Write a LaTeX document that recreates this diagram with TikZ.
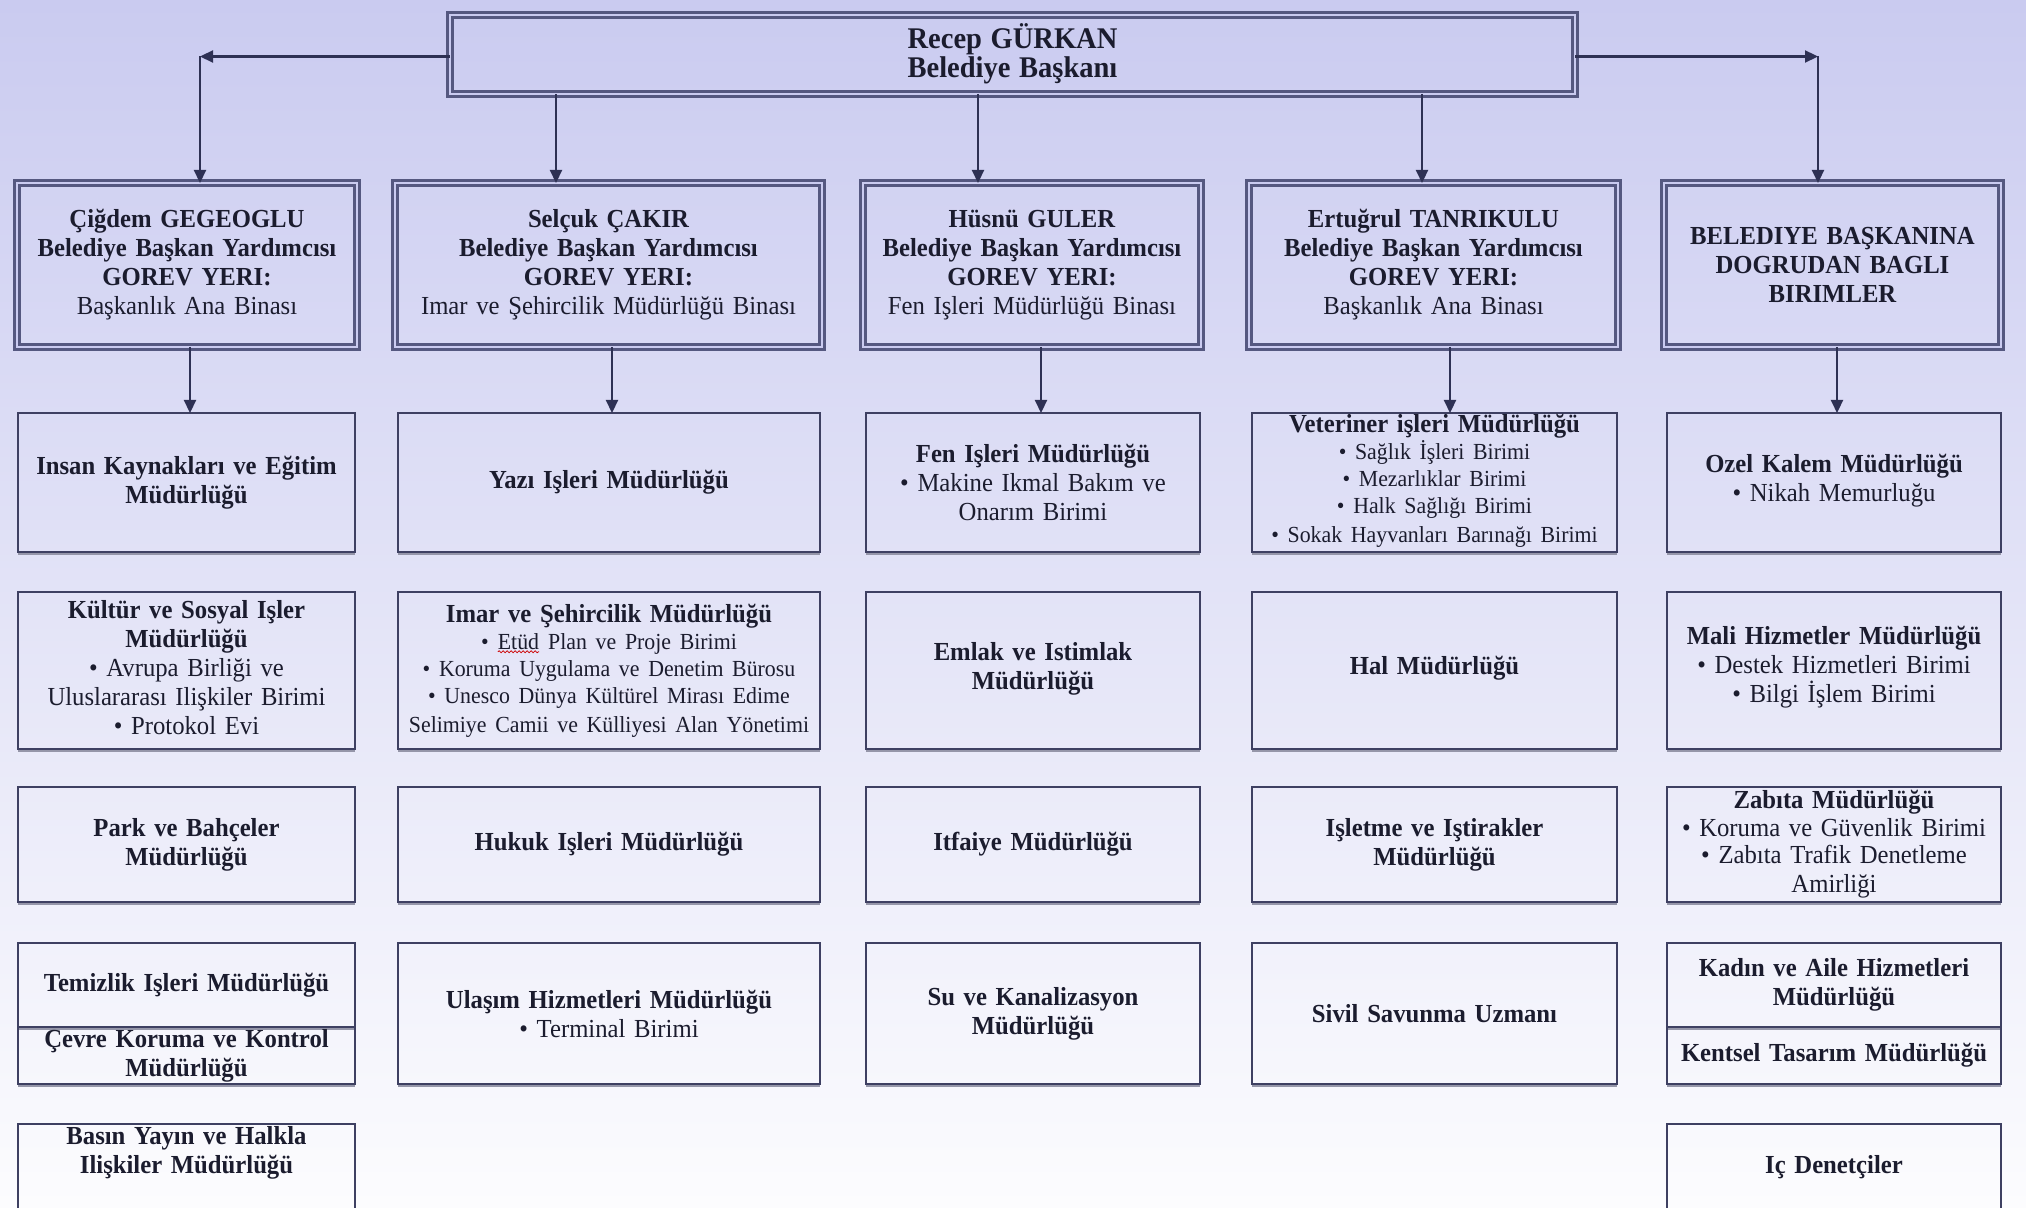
\documentclass[tikz,border=0pt]{standalone}
\usepackage{fontspec}
\setmainfont{Liberation Serif}[FakeStretch=0.95]
\usetikzlibrary{arrows.meta,fit,decorations.pathmorphing}
\definecolor{bgtop}{HTML}{CACBF0}
\definecolor{bgmid}{HTML}{DFE0F6}
\definecolor{bgbot}{HTML}{FCFCFE}
\definecolor{linec}{HTML}{3E4062}
\definecolor{dblc}{HTML}{555880}
\definecolor{arrc}{HTML}{2E3154}
\definecolor{txtc}{HTML}{1B1C2E}
\tikzset{
 ubox/.style={draw=linec, line width=1.2pt, inner sep=0pt, outer sep=0pt},
 dbox/.style={draw=dblc, line width=1.25pt, double=bgtop, double distance=1.2pt, inner sep=0pt, outer sep=0pt},
 shadowline/.style={draw=linec!55, line width=1pt},
 txt/.style={align=center, text=txtc, inner sep=0pt, text width=240pt, font=\fontsize{13pt}{14.5pt}\selectfont},
 arr/.style={draw=arrc, line width=1.1pt, -{Triangle[length=6.5pt,width=6pt]}},
 squig/.style={draw=red!80!black, line width=0.4pt, decorate, decoration={snake, amplitude=0.5pt, segment length=2pt}},
}
\newcommand\ubx[7]{\node[ubox, fit={(#2,#3) (#4,#5)}] (#1) {};
  \draw[shadowline] ([yshift=-1.2pt]#1.south west) -- ([yshift=-1.2pt]#1.south east);
  \node[txt,#6] (#1t) at (#1.center) {#7};}
\newcommand\dbx[7]{\node[dbox, fit={(#2,#3) (#4,#5)}] (#1) {};
  \node[txt,#6] (#1t) at (#1.center) {#7};}
\newcommand\sm{\fontsize{11.5pt}{13.5pt}\selectfont}
\newcommand\spellmark[1]{\tikz[baseline=(w.base)]{\node[inner sep=0pt, outer sep=0pt] (w) {#1};
  \draw[squig] ([yshift=-1.3pt]w.base west) -- ([yshift=-1.3pt]w.base east);}}
\begin{document}
\begin{tikzpicture}[x=0.5pt,y=-0.5pt]
\shade[top color=bgtop, middle color=bgmid, bottom color=bgbot] (0,0) rectangle (2026,1208);
\useasboundingbox (0,0) rectangle (2026,1208);
\clip (0,0) rectangle (2026,1208);

% top
\dbx{top}{450}{15}{1575}{94}{yshift=0.5pt}{\fontsize{15pt}{16pt}\selectfont\bfseries Recep GÜRKAN\\Belediye Başkanı}

% level 2
\dbx{b1}{17}{183}{357}{347}{}{\bfseries Çiğdem GEGEOGLU\\Belediye Başkan Yardımcısı\\GOREV YERI:\\\mdseries Başkanlık Ana Binası}
\dbx{b2}{395}{183}{822}{347}{}{\bfseries Selçuk ÇAKIR\\Belediye Başkan Yardımcısı\\GOREV YERI:\\\mdseries Imar ve Şehircilik Müdürlüğü Binası}
\dbx{b3}{863}{183}{1201}{347}{}{\bfseries Hüsnü GULER\\Belediye Başkan Yardımcısı\\GOREV YERI:\\\mdseries Fen Işleri Müdürlüğü Binası}
\dbx{b4}{1249}{183}{1618}{347}{}{\bfseries Ertuğrul TANRIKULU\\Belediye Başkan Yardımcısı\\GOREV YERI:\\\mdseries Başkanlık Ana Binası}
\dbx{b5}{1664}{183}{2001}{347}{}{\bfseries BELEDIYE BAŞKANINA\\DOGRUDAN BAGLI\\BIRIMLER}

% row 3
\ubx{r3c1}{18}{413}{355}{552}{}{\bfseries Insan Kaynakları ve Eğitim\\Müdürlüğü}
\ubx{r3c2}{398}{413}{820}{552}{}{\bfseries Yazı Işleri Müdürlüğü}
\ubx{r3c3}{866}{413}{1200}{552}{}{\textbf{Fen Işleri Müdürlüğü}\\• Makine Ikmal Bakım ve\\Onarım Birimi}
\ubx{r3c4}{1252}{413}{1617}{552}{yshift=1pt}{{\bfseries Veteriner işleri Müdürlüğü}\\\sm • Sağlık İşleri Birimi\\• Mezarlıklar Birimi\\• Halk Sağlığı Birimi\\• Sokak Hayvanları Barınağı Birimi}
\ubx{r3c5}{1667}{413}{2001}{552}{yshift=1pt}{\textbf{Ozel Kalem Müdürlüğü}\\• Nikah Memurluğu}

% row 4
\ubx{r4c1}{18}{592}{355}{749}{yshift=1.5pt}{\textbf{Kültür ve Sosyal Işler\\Müdürlüğü}\\• Avrupa Birliği ve\\Uluslararası Ilişkiler Birimi\\• Protokol Evi}
\ubx{r4c2}{398}{592}{820}{749}{}{{\bfseries Imar ve Şehircilik Müdürlüğü}\\\sm • \spellmark{Etüd} Plan ve Proje Birimi\\• Koruma Uygulama ve Denetim Bürosu\\• Unesco Dünya Kültürel Mirası Edime\\Selimiye Camii ve Külliyesi Alan Yönetimi}
\ubx{r4c3}{866}{592}{1200}{749}{yshift=1pt}{\bfseries Emlak ve Istimlak\\Müdürlüğü}
\ubx{r4c4}{1252}{592}{1617}{749}{yshift=1pt}{\bfseries Hal Müdürlüğü}
\ubx{r4c5}{1667}{592}{2001}{749}{yshift=1.5pt}{\textbf{Mali Hizmetler Müdürlüğü}\\• Destek Hizmetleri Birimi\\• Bilgi İşlem Birimi}

% row 5
\ubx{r5c1}{18}{787}{355}{902}{}{\bfseries Park ve Bahçeler\\Müdürlüğü}
\ubx{r5c2}{398}{787}{820}{902}{}{\bfseries Hukuk Işleri Müdürlüğü}
\ubx{r5c3}{866}{787}{1200}{902}{}{\bfseries Itfaiye Müdürlüğü}
\ubx{r5c4}{1252}{787}{1617}{902}{}{\bfseries Işletme ve Iştirakler\\Müdürlüğü}
\ubx{r5c5}{1667}{787}{2001}{902}{}{\fontsize{13pt}{13.8pt}\selectfont\textbf{Zabıta Müdürlüğü}\\• Koruma ve Güvenlik Birimi\\• Zabıta Trafik Denetleme\\Amirliği}

% row 6
\ubx{r6c1a}{18}{943}{355}{1027}{}{\bfseries Temizlik Işleri Müdürlüğü}
\ubx{r6c1b}{18}{1027}{355}{1084}{}{\fontsize{13pt}{13.8pt}\selectfont\bfseries Çevre Koruma ve Kontrol\\Müdürlüğü}
\ubx{r6c2}{398}{943}{820}{1084}{}{\textbf{Ulaşım Hizmetleri Müdürlüğü}\\• Terminal Birimi}
\ubx{r6c3}{866}{943}{1200}{1084}{}{\bfseries Su ve Kanalizasyon\\Müdürlüğü}
\ubx{r6c4}{1252}{943}{1617}{1084}{}{\bfseries Sivil Savunma Uzmanı}
\ubx{r6c5a}{1667}{943}{2001}{1027}{}{\bfseries Kadın ve Aile Hizmetleri\\Müdürlüğü}
\ubx{r6c5b}{1667}{1027}{2001}{1084}{}{\bfseries Kentsel Tasarım Müdürlüğü}

% row 7
\ubx{r7c1}{18}{1124}{355}{1240}{yshift=14.5pt}{\bfseries Basın Yayın ve Halkla\\Ilişkiler Müdürlüğü}
\ubx{r7c5}{1667}{1124}{2001}{1240}{yshift=7.5pt}{\bfseries Iç Denetçiler}

% connector columns
\coordinate (aL) at (200,0);
\coordinate (aR) at (1818,0);
\coordinate (a2) at (556,0);
\coordinate (a3) at (978,0);
\coordinate (a4) at (1422,0);
\coordinate (d1) at (190,0);
\coordinate (d2) at (612,0);
\coordinate (d3) at (1041,0);
\coordinate (d4) at (1450,0);
\coordinate (d5) at (1837,0);
\coordinate (kL) at ([yshift=-1pt]top.west -| aL);
\coordinate (kR) at ([yshift=-1pt]top.east -| aR);

\draw[arr] ([yshift=-1pt]top.west) -- (kL);
\draw[arr] (kL) -- (aL |- b1.north);
\draw[arr] ([yshift=-1pt]top.east) -- (kR);
\draw[arr] (kR) -- (aR |- b5.north);
\draw[arr] (a2 |- top.south) -- (a2 |- b2.north);
\draw[arr] (a3 |- top.south) -- (a3 |- b3.north);
\draw[arr] (a4 |- top.south) -- (a4 |- b4.north);

\draw[arr] (d1 |- b1.south) -- (d1 |- r3c1.north);
\draw[arr] (d2 |- b2.south) -- (d2 |- r3c2.north);
\draw[arr] (d3 |- b3.south) -- (d3 |- r3c3.north);
\draw[arr] (d4 |- b4.south) -- (d4 |- r3c4.north);
\draw[arr] (d5 |- b5.south) -- (d5 |- r3c5.north);
\end{tikzpicture}
\end{document}
